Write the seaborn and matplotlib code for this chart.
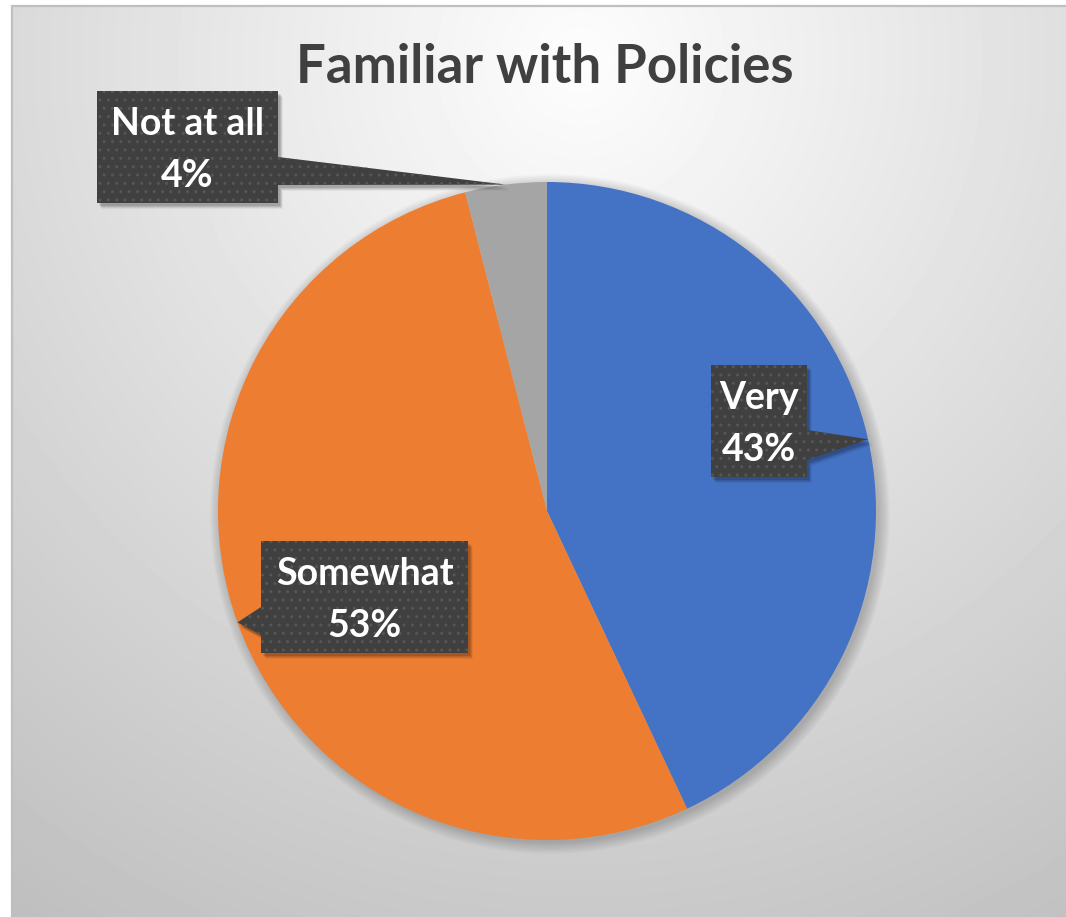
import numpy as np
import matplotlib
matplotlib.use("Agg")
import matplotlib.pyplot as plt
from matplotlib.patches import Polygon, Circle
import seaborn as sns

# ---- data ----
title = "Familiar with Policies"
categories = ["Very", "Somewhat", "Not at all"]
shares = [43, 53, 4]
palette = ["#4472C4", "#ED7D31", "#A5A5A5"]

sns.set_theme(style="white")
plt.rcParams["font.family"] = ["Lato", "DejaVu Sans"]

W, H = 1066, 917
fig = plt.figure(figsize=(W / 100, H / 100), dpi=100)
fig.patch.set_facecolor("white")
ax = fig.add_axes([0, 0, 1, 1])

def up(y):
    """top-down pixel row -> axis y (upward)"""
    return H - y

# ---- chart area: soft radial gradient inside a thin frame ----
frame_left, frame_top = 12, 6
gx0, gy0 = 580.0, 60.0
yy, xx = np.mgrid[frame_top:H, frame_left:W].astype(float)
dist = np.hypot(xx - gx0, (yy - gy0) * 0.98)
shade = 253 - 62 * np.clip(dist / 1000.0, 0, 1)
ax.imshow(shade, cmap="gray", vmin=0, vmax=255, interpolation="bilinear",
          extent=(frame_left, W, 0, up(frame_top)), origin="upper", zorder=0)
ax.plot([frame_left, frame_left], [0, up(frame_top)], color="#bfbfbf", lw=1.6, zorder=1)
ax.plot([frame_left, W], [up(frame_top), up(frame_top)], color="#bfbfbf", lw=1.6, zorder=1)

# ---- pie ----
cx, cy, R = 547, up(511), 329
for i in range(10):
    ax.add_patch(Circle((cx + 3, cy - 3), R + 1.2 * i, color="black",
                        alpha=0.018, lw=0, zorder=2))
wedges, _ = ax.pie(shares, colors=palette, startangle=90, counterclock=False,
                   center=(cx, cy), radius=R, frame=True,
                   wedgeprops=dict(linewidth=0))
for w in wedges:
    w.set_zorder(3)

# ---- callout labels ----
# box (left, top, right, bottom) in pixel rows, side of the pointer, pointer base rows
boxes = {
    "Very": ((711, 365, 807, 477), "right", (430, 460)),
    "Somewhat": ((261, 541, 468, 653), "left", (607, 635)),
    "Not at all": ((97, 91, 278, 203), "right", (157, 185)),
}

for w, cat, val in zip(wedges, categories, shares):
    mid = np.deg2rad((w.theta1 + w.theta2) / 2)
    tip = (w.center[0] + w.r * np.cos(mid), w.center[1] + w.r * np.sin(mid))
    (l, t, r, b), side, (bt, bb) = boxes[cat]
    if side == "right":
        pts = [(l, up(t)), (r, up(t)), (r, up(bt)), tip, (r, up(bb)),
               (r, up(b)), (l, up(b))]
    else:
        pts = [(l, up(t)), (r, up(t)), (r, up(b)), (l, up(b)), (l, up(bb)),
               tip, (l, up(bt))]
    pts = np.array(pts, dtype=float)
    for k, a in [(6, 0.05), (5, 0.07), (4, 0.09), (3, 0.12)]:
        ax.add_patch(Polygon(pts + np.array([k * 0.8, -k]), closed=True,
                             facecolor="black", alpha=a, lw=0, zorder=4))
    ax.add_patch(Polygon(pts, closed=True, facecolor="#404040",
                         edgecolor="#565656", lw=0, hatch="..", zorder=5))
    xc = (l + r) / 2
    ax.text(xc, up(t + 44), cat, ha="center", va="baseline", color="white",
            fontsize=27, fontweight="bold", zorder=6)
    ax.text(xc, up(t + 96), f"{val}%", ha="center", va="baseline",
            color="white", fontsize=27, fontweight="bold", zorder=6)

# ---- title ----
ax.text(545, up(83), title, ha="center", va="baseline", color="#404040",
        fontsize=38, fontweight="bold", zorder=6)

ax.set_xlim(0, W)
ax.set_ylim(0, H)
ax.set_aspect("auto")
ax.axis("off")

fig.savefig("out.png", dpi=100, facecolor="white")
